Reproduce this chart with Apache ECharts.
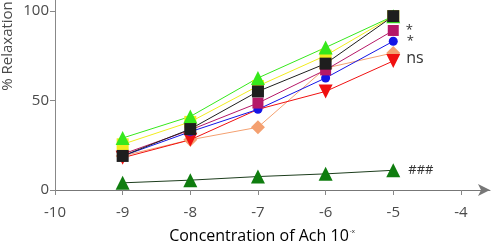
<!DOCTYPE html>
<html><head><meta charset="utf-8">
<script src="https://cdn.jsdelivr.net/npm/echarts@6/dist/echarts.min.js"></script>
<style>html,body{margin:0;padding:0;background:#fff}#c{width:491px;height:244px}</style>
</head><body><div id="c"></div>
<script>
const xValues = [-9, -8, -7, -6, -5];
const xTicks = [-10, -9, -8, -7, -6, -5, -4];
const yTicks = [0, 50, 100];
const greenVals = [29, 41, 62.5, 79.5, 97];
const yellowVals = [25.5, 38, 58, 75, 97];
const blackVals = [19, 34, 55, 70.5, 97];
const purpleVals = [20, 33.5, 48.5, 67, 89];
const blueVals = [19, 32.5, 45, 62.5, 83];
const orangeVals = [19, 28, 35, 68, 76.5];
const redVals = [18, 28, 45, 55, 72];
const darkGreenVals = [4, 5.5, 7.5, 9, 11];
const endLabels = {purple: '*', blue: '*', red: 'ns', darkGreen: '###'};

const font = '"Open Sans", "Noto Sans", sans-serif';
function pts(vals, label, labelStyle, hiddenIdx) {
  return vals.map((v, i) => {
    const d = {value: [xValues[i], v]};
    if (hiddenIdx === i) d.symbolSize = 7;
    if (label && i === vals.length - 1) {
      d.label = Object.assign({show: true, position: 'right', formatter: label, color: '#333', fontFamily: font}, labelStyle || {});
    }
    return d;
  });
}
function s(name, vals, color, symbol, size, extra, lineColor) {
  return Object.assign({
    type: 'line', name, data: vals, symbol, symbolSize: size,
    lineStyle: {width: 1, color: lineColor || color},
    itemStyle: {color: color, opacity: 1}, emphasis: {disabled: true}, animation: false
  }, extra || {});
}
const chart = echarts.init(document.getElementById('c'));
chart.setOption({
  animation: false,
  grid: {left: 55, right: 1, top: 0, bottom: 54, containLabel: false},
  xAxis: {
    type: 'value', min: -10, max: -3.57,
    axisLine: {lineStyle: {color: '#777', width: 1}, symbol: ['none', 'arrow'], symbolSize: [9, 12]},
    axisTick: {customValues: xTicks, length: 5, lineStyle: {color: '#888'}},
    axisLabel: {customValues: xTicks, color: '#4a4a4a', fontSize: 15, fontFamily: font, margin: 15},
    splitLine: {show: false}
  },
  yAxis: {
    type: 'value', min: 0, max: 106,
    axisLine: {show: true, lineStyle: {color: '#888', width: 1}},
    axisTick: {show: true, customValues: yTicks, length: 5, lineStyle: {color: '#888'}},
    axisLabel: {customValues: yTicks, color: '#4a4a4a', fontSize: 15, fontFamily: font, margin: 6},
    splitLine: {show: false}
  },
  graphic: [
    {type: 'text', x: 0, y: 46, rotation: Math.PI / 2, style: {text: '% Relaxation', fill: '#4a4a4a', font: '15px ' + font, textAlign: 'center', textVerticalAlign: 'top'}},
    {type: 'text', x: 262, y: 228, style: {
      text: '{a|Concentration of Ach 10}{s|-x}', textAlign: 'center', textVerticalAlign: 'top',
      rich: {a: {fontSize: 16, fontFamily: font, color: '#4a4a4a'}, s: {fontSize: 6, fontFamily: font, color: '#4a4a4a', padding: [0, 0, 11, 1]}}
    }}
  ],
  series: [
    s('darkgreen', pts(darkGreenVals, endLabels.darkGreen, {fontSize: 13, distance: 8}), '#0f7d0f', 'triangle', 14, null, '#1d3d1d'),
    s('orange', pts(orangeVals), '#f4a070', 'diamond', 14),
    s('red', pts(redVals, endLabels.red, {fontSize: 16, distance: 6, offset: [0, -3]}, 2), '#f01010', 'path://M0,0 L10,0 L5,9 Z', 14),
    s('blue', pts(blueVals, endLabels.blue, {fontSize: 13, distance: 9}), '#1414e6', 'circle', 9),
    s('purple', pts(purpleVals, endLabels.purple, {fontSize: 13, distance: 7}), '#b51868', 'rect', 11),
    s('yellow', pts(yellowVals), '#f2ec1e', 'rect', 12),
    s('green', pts(greenVals), '#36e81c', 'triangle', 14),
    s('black', pts(blackVals), '#1e1e1e', 'rect', 12)
  ]
});
</script></body></html>
